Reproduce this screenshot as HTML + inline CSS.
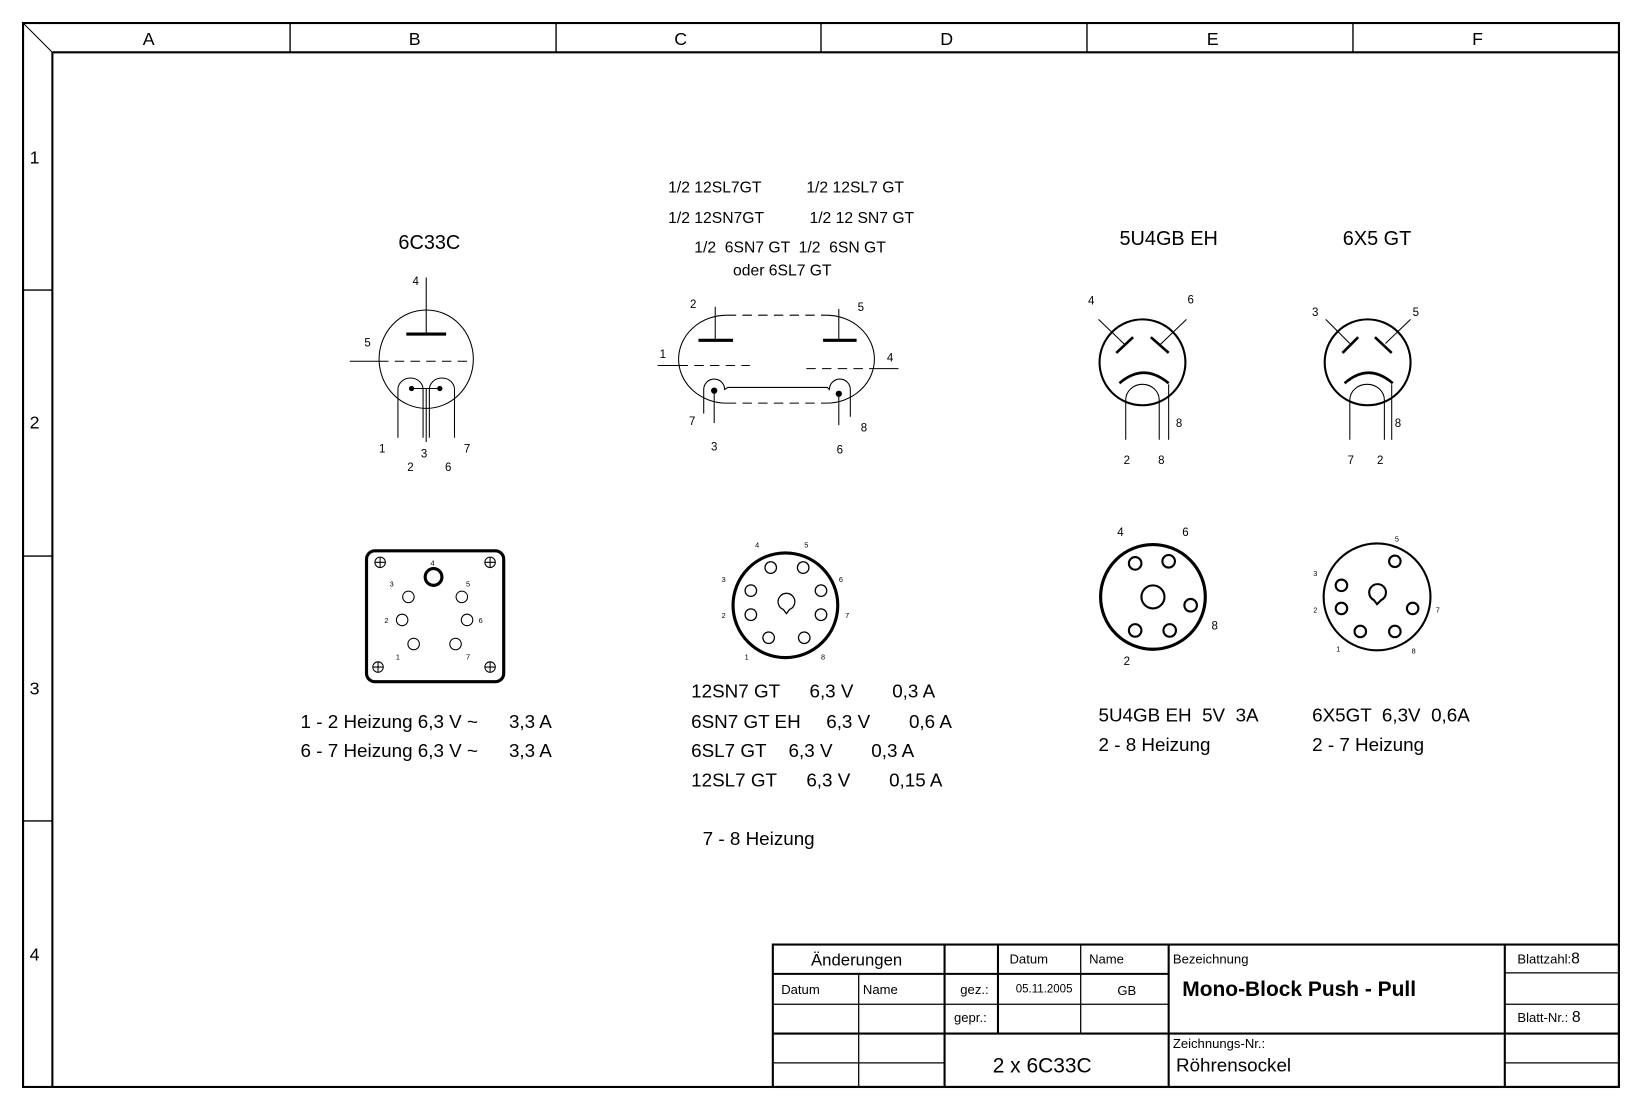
<!DOCTYPE html>
<html><head><meta charset="utf-8"><style>
html,body{margin:0;padding:0;background:#fff}
svg{display:block}
text{font-family:"Liberation Sans",Arial,sans-serif;fill:#000}
</style></head><body>
<svg width="1642" height="1110" viewBox="0 0 1568 1060" xmlns="http://www.w3.org/2000/svg">
<g fill="none" stroke="#000">
<!-- frame -->
<rect x="22" y="22" width="1524" height="1016" stroke-width="2"/>
<line x1="50" y1="50" x2="1546" y2="50" stroke-width="2"/>
<line x1="50" y1="50" x2="50" y2="1038" stroke-width="2"/>
<line x1="22" y1="22" x2="50" y2="50" stroke-width="1"/>
<g stroke-width="1.3">
<line x1="277" y1="22" x2="277" y2="50"/><line x1="531" y1="22" x2="531" y2="50"/>
<line x1="784" y1="22" x2="784" y2="50"/><line x1="1038" y1="22" x2="1038" y2="50"/>
<line x1="1292" y1="22" x2="1292" y2="50"/>
<line x1="22" y1="277" x2="50" y2="277"/><line x1="22" y1="531" x2="50" y2="531"/>
<line x1="22" y1="784" x2="50" y2="784"/>
</g>
<!-- title block -->
<g stroke-width="2">
<rect x="738" y="902" width="808" height="136"/>
<line x1="902" y1="902" x2="902" y2="1038"/>
<line x1="1116" y1="902" x2="1116" y2="1038"/>
<line x1="1437" y1="902" x2="1437" y2="1038"/>
<line x1="738" y1="987" x2="1546" y2="987"/>
<line x1="953" y1="902" x2="953" y2="987"/>
<line x1="738" y1="930" x2="1116" y2="930"/>
</g>
<g stroke-width="1.2">
<line x1="820" y1="930" x2="820" y2="1038"/>
<line x1="1032" y1="902" x2="1032" y2="987"/>
<line x1="738" y1="959" x2="1116" y2="959"/>
<line x1="738" y1="1015" x2="902" y2="1015"/>
<line x1="1437" y1="929" x2="1546" y2="929"/>
<line x1="1437" y1="959" x2="1546" y2="959"/>
<line x1="1437" y1="1015" x2="1546" y2="1015"/>
</g>

<!-- 6C33C tube -->
<g stroke-width="1">
<ellipse cx="407" cy="343" rx="45" ry="47"/>
<line x1="407" y1="265" x2="407" y2="319"/>
<line x1="334" y1="345" x2="362" y2="345"/>
<line x1="362" y1="345" x2="449" y2="345" stroke-dasharray="9,6"/>
<path d="M380 418 V372 A12 11 0 0 1 404 372 V418"/>
<path d="M410 418 V372 A12 11 0 0 1 434 372 V418"/>
<line x1="407" y1="371" x2="407" y2="422"/>
<line x1="393" y1="371" x2="420" y2="371"/>
</g>
<line x1="388" y1="319" x2="426" y2="319" stroke-width="3"/>

<!-- double triode -->
<g stroke-width="1">
<path d="M694 301 A46 42 0 0 0 694 385"/>
<path d="M789 301 A46 42 0 0 1 789 385"/>
<line x1="694" y1="301" x2="789" y2="301" stroke-dasharray="9,6"/>
<line x1="694" y1="385" x2="789" y2="385" stroke-dasharray="9,6"/>
<line x1="683" y1="293" x2="683" y2="325"/>
<line x1="801" y1="295" x2="801" y2="325"/>
<line x1="628" y1="349" x2="648" y2="349"/>
<line x1="648" y1="349" x2="716" y2="349" stroke-dasharray="9,6"/>
<line x1="770" y1="352" x2="835" y2="352" stroke-dasharray="9,6"/>
<line x1="835" y1="352" x2="858" y2="352"/>
<path d="M672 395 V372 A10 10 0 0 1 692 372 L695 370 H790 L792 372 A10 10 0 0 1 812 372 V398"/>
<line x1="682" y1="373" x2="682" y2="404"/>
<line x1="801" y1="376" x2="801" y2="406"/>
</g>
<line x1="667" y1="325" x2="700" y2="325" stroke-width="3"/>
<line x1="786" y1="325" x2="818" y2="325" stroke-width="3"/>

<!-- 5U4GB tube -->
<circle cx="1091" cy="346" r="41" stroke-width="2"/>
<g stroke-width="1">
<line x1="1049" y1="305" x2="1074" y2="329"/>
<line x1="1133" y1="305" x2="1108" y2="329"/>
<path d="M1075 420 V382 A16 15 0 0 1 1107 382 V420"/>
<line x1="1116" y1="367" x2="1116" y2="420"/>
</g>
<g stroke-width="2.5">
<line x1="1066" y1="337" x2="1082" y2="322"/>
<line x1="1099" y1="322" x2="1116" y2="337"/>
<path d="M1069 366 Q1092 346 1116 366"/>
</g>

<!-- 6X5 tube -->
<circle cx="1306" cy="346" r="41" stroke-width="2"/>
<g stroke-width="1">
<line x1="1266" y1="305" x2="1289" y2="328"/>
<line x1="1347" y1="305" x2="1323" y2="328"/>
<path d="M1289 420 V382 A16.5 15 0 0 1 1322 382 V420"/>
<line x1="1329" y1="367" x2="1329" y2="420"/>
</g>
<g stroke-width="2.5">
<line x1="1282" y1="337" x2="1297" y2="322"/>
<line x1="1313" y1="322" x2="1329" y2="337"/>
<path d="M1284 366 Q1307 346 1330 366"/>
</g>

<!-- 6C33C socket -->
<rect x="350" y="526" width="131" height="125" rx="8" stroke-width="3"/>
<g stroke-width="1">
<circle cx="363" cy="537" r="5"/><path d="M358 537h10M363 532v10"/>
<circle cx="468" cy="537" r="5"/><path d="M463 537h10M468 532v10"/>
<circle cx="361" cy="637" r="5"/><path d="M356 637h10M361 632v10"/>
<circle cx="468" cy="637" r="5"/><path d="M463 637h10M468 632v10"/>
<circle cx="390" cy="570" r="5.5"/><circle cx="441" cy="570" r="5.5"/>
<circle cx="384" cy="592" r="5.5"/><circle cx="446" cy="592" r="5.5"/>
<circle cx="395" cy="615" r="5.5"/><circle cx="435" cy="615" r="5.5"/>
</g>
<circle cx="414" cy="551" r="8" stroke-width="3"/>

<!-- octal socket -->
<circle cx="750" cy="578" r="50" stroke-width="3"/>
<g stroke-width="1.2">
<circle cx="736" cy="542" r="5.5"/><circle cx="767" cy="542" r="5.5"/>
<circle cx="717" cy="564" r="5.5"/><circle cx="784" cy="564" r="5.5"/>
<circle cx="717" cy="587" r="5.5"/><circle cx="784" cy="587" r="5.5"/>
<circle cx="734" cy="609" r="5.5"/><circle cx="768" cy="609" r="5.5"/>
<path d="M748 582 A8 8 0 1 1 754 582 L751 586 Z"/>
</g>

<!-- 5U4 socket -->
<circle cx="1101" cy="570" r="50" stroke-width="3"/>
<g stroke-width="2">
<circle cx="1101" cy="570" r="11"/>
<circle cx="1084" cy="538" r="6"/><circle cx="1116" cy="536" r="6"/>
<circle cx="1137" cy="578" r="6"/><circle cx="1084" cy="602" r="6"/>
<circle cx="1117" cy="602" r="6"/>
</g>

<!-- 6X5 socket -->
<circle cx="1315" cy="570" r="51" stroke-width="2"/>
<g stroke-width="2">
<circle cx="1332" cy="536" r="5.5"/><circle cx="1281" cy="559" r="5.5"/>
<circle cx="1281" cy="581" r="5.5"/><circle cx="1349" cy="581" r="5.5"/>
<circle cx="1299" cy="603" r="5.5"/><circle cx="1332" cy="603" r="5.5"/>
<path d="M1312 573 A8 8 0 1 1 1319 573 L1315 577 Z"/>
</g>
</g>
<g fill="#000">
<circle cx="393" cy="371" r="2.5"/><circle cx="420" cy="371" r="2.5"/>
<circle cx="682" cy="373" r="3"/><circle cx="801" cy="376" r="3"/>
</g>

<!-- frame labels -->
<g font-size="17" text-anchor="middle">
<text x="142" y="43">A</text><text x="396" y="43">B</text><text x="650" y="43">C</text>
<text x="904" y="43">D</text><text x="1158" y="43">E</text><text x="1411" y="43">F</text>
<text x="33" y="156">1</text><text x="33" y="409">2</text><text x="33" y="663">3</text><text x="33" y="917">4</text>
</g>

<!-- titles -->
<g font-size="19" text-anchor="middle">
<text x="410" y="238">6C33C</text>
<text x="1116" y="234">5U4GB EH</text>
<text x="1315" y="234">6X5 GT</text>
</g>
<g font-size="15">
<text x="638" y="184">1/2 12SL7GT</text><text x="770" y="184">1/2 12SL7 GT</text>
<text x="638" y="213">1/2 12SN7GT</text><text x="773" y="213">1/2 12 SN7 GT</text>
<text x="663" y="241" xml:space="preserve">1/2  6SN7 GT  1/2  6SN GT</text>
<text x="700" y="263">oder 6SL7 GT</text>
</g>

<!-- pin labels -->
<g font-size="11" text-anchor="middle">
<text x="397" y="272">4</text><text x="351" y="331">5</text>
<text x="365" y="432">1</text><text x="405" y="437">3</text><text x="446" y="432">7</text>
<text x="392" y="450">2</text><text x="428" y="450">6</text>
<text x="662" y="294">2</text><text x="822" y="297">5</text><text x="633" y="342">1</text><text x="850" y="345">4</text>
<text x="661" y="406">7</text><text x="682" y="430">3</text><text x="802" y="433">6</text><text x="825" y="412">8</text>
<text x="1042" y="291">4</text><text x="1137" y="290">6</text><text x="1126" y="408">8</text>
<text x="1076" y="443">2</text><text x="1109" y="443">8</text>
<text x="1256" y="302">3</text><text x="1352" y="302">5</text><text x="1335" y="408">8</text>
<text x="1290" y="443">7</text><text x="1318" y="443">2</text>
<text x="1070" y="512">4</text><text x="1132" y="512">6</text><text x="1160" y="601">8</text><text x="1076" y="635">2</text>
</g>
<g font-size="7" text-anchor="middle">
<text x="413" y="540">4</text><text x="374" y="560">3</text><text x="447" y="560">5</text>
<text x="369" y="595">2</text><text x="459" y="595">6</text><text x="380" y="630">1</text><text x="447" y="630">7</text>
<text x="723" y="523">4</text><text x="770" y="523">5</text><text x="691" y="556">3</text><text x="803" y="556">6</text>
<text x="691" y="590">2</text><text x="809" y="590">7</text><text x="713" y="630">1</text><text x="786" y="630">8</text>
<text x="1334" y="517">5</text><text x="1256" y="550">3</text><text x="1256" y="585">2</text>
<text x="1373" y="585">7</text><text x="1278" y="622">1</text><text x="1350" y="624">8</text>
</g>

<!-- notes -->
<g font-size="18">
<text x="287" y="695">1 - 2 Heizung 6,3 V ~</text><text x="486" y="695">3,3 A</text>
<text x="287" y="723">6 - 7 Heizung 6,3 V ~</text><text x="486" y="723">3,3 A</text>
<text x="660" y="666">12SN7 GT</text><text x="773" y="666">6,3 V</text><text x="852" y="666">0,3 A</text>
<text x="660" y="695">6SN7 GT EH</text><text x="789" y="695">6,3 V</text><text x="868" y="695">0,6 A</text>
<text x="660" y="723">6SL7 GT</text><text x="753" y="723">6,3 V</text><text x="832" y="723">0,3 A</text>
<text x="660" y="751">12SL7 GT</text><text x="770" y="751">6,3 V</text><text x="849" y="751">0,15 A</text>
<text x="671" y="807">7 - 8 Heizung</text>
<text x="1049" y="689" xml:space="preserve">5U4GB EH  5V  3A</text>
<text x="1049" y="717">2 - 8 Heizung</text>
<text x="1253" y="689" xml:space="preserve">6X5GT  6,3V  0,6A</text>
<text x="1253" y="717">2 - 7 Heizung</text>
</g>

<!-- title block text -->
<text x="818" y="922" font-size="16" text-anchor="middle">Änderungen</text>
<g font-size="12.5">
<text x="964" y="920">Datum</text><text x="1040" y="920">Name</text>
<text x="1120" y="920">Bezeichnung</text>
<text x="1449" y="920">Blattzahl:<tspan font-size="15">8</tspan></text>
<text x="746" y="949">Datum</text><text x="824" y="949">Name</text>
<text x="917" y="949">gez.:</text>
<text x="1067" y="950">GB</text>
<text x="911" y="976">gepr.:</text>
<text x="1449" y="976">Blatt-Nr.: <tspan font-size="15">8</tspan></text>
<text x="1120" y="1001">Zeichnungs-Nr.:</text>
</g>
<text x="970" y="948" font-size="11">05.11.2005</text>
<text x="1129" y="951" font-size="20" font-weight="bold">Mono-Block Push - Pull</text>
<text x="1123" y="1023" font-size="18">Röhrensockel</text>
<text x="948" y="1024" font-size="20">2 x 6C33C</text>
</svg>
</body></html>
